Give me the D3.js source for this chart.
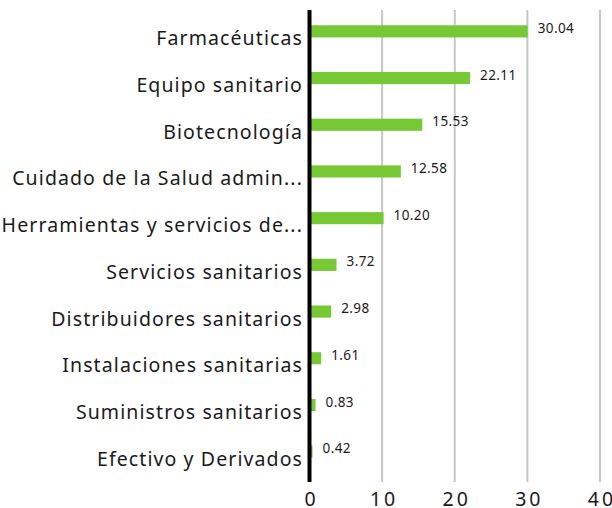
<!DOCTYPE html>
<html>
<head>
<meta charset="utf-8">
<script src="https://cdn.jsdelivr.net/npm/d3@7"></script>
<style>
  body { margin: 0; background: #fff; }
  text { font-family: "Noto Sans", sans-serif; fill: #1a1a1a; }
</style>
</head>
<body>
<div id="chart"></div>
<script>
var categories = ["Farmacéuticas", "Equipo sanitario", "Biotecnología",
    "Cuidado de la Salud admin...", "Herramientas y servicios de...",
    "Servicios sanitarios", "Distribuidores sanitarios",
    "Instalaciones sanitarias", "Suministros sanitarios", "Efectivo y Derivados"];
var values = [30.04, 22.11, 15.53, 12.58, 10.20, 3.72, 2.98, 1.61, 0.83, 0.42];
var xTicks = [0, 10, 20, 30, 40];

var width = 612, height = 508;
var x0 = 309.5, x1 = 600;

var svg = d3.select("#chart").append("svg")
    .attr("width", width)
    .attr("height", height);

var xScale = d3.scaleLinear()
    .domain([0, 40])
    .range([x0, x1]);

var yScale = d3.scaleBand()
    .domain(categories)
    .range([8, 475])
    .paddingInner(0.74)
    .paddingOuter(0.37);

// grid lines
svg.append("g")
    .selectAll("line")
    .data(xTicks.slice(1))
    .join("line")
    .attr("x1", d => xScale(d))
    .attr("x2", d => xScale(d))
    .attr("y1", 10)
    .attr("y2", 482)
    .attr("stroke", "#c6c6c6")
    .attr("stroke-width", 2);

// bars
svg.selectAll("rect.bar")
    .data(values)
    .join("rect")
    .attr("class", "bar")
    .attr("x", xScale(0))
    .attr("y", (d, i) => yScale(categories[i]))
    .attr("width", d => xScale(d) - xScale(0))
    .attr("height", yScale.bandwidth())
    .attr("fill", "#76c935");

// value labels
svg.selectAll("text.val")
    .data(values)
    .join("text")
    .attr("class", "val")
    .attr("x", d => xScale(d) + 10)
    .attr("y", (d, i) => yScale(categories[i]) + yScale.bandwidth() / 2 - 2)
    .attr("dominant-baseline", "middle")
    .attr("font-size", 13.5)
    .attr("letter-spacing", 0.4)
    .text(d => d.toFixed(2));

// category labels
svg.selectAll("text.cat")
    .data(categories)
    .join("text")
    .attr("class", "cat")
    .attr("x", 303)
    .attr("y", d => yScale(d) + yScale.bandwidth() / 2 + 14)
    .attr("text-anchor", "end")
    .attr("font-size", 19.5)
    .attr("letter-spacing", 1.1)
    .text(d => d);

// x axis
var xAxis = svg.append("g")
    .attr("transform", "translate(0,482)")
    .call(d3.axisBottom(xScale).tickValues(xTicks).tickSize(0));
xAxis.select(".domain").remove();
xAxis.selectAll("text")
    .attr("y", 24)
    .attr("dy", 0)
    .attr("dx", 1.5)
    .attr("font-size", 19.5)
    .attr("letter-spacing", 3)
    .attr("font-family", "Noto Sans, sans-serif")
    .attr("fill", "#1a1a1a");

// zero line
svg.append("line")
    .attr("x1", xScale(0))
    .attr("x2", xScale(0))
    .attr("y1", 10)
    .attr("y2", 482)
    .attr("stroke", "#000")
    .attr("stroke-width", 4);
</script>
</body>
</html>
